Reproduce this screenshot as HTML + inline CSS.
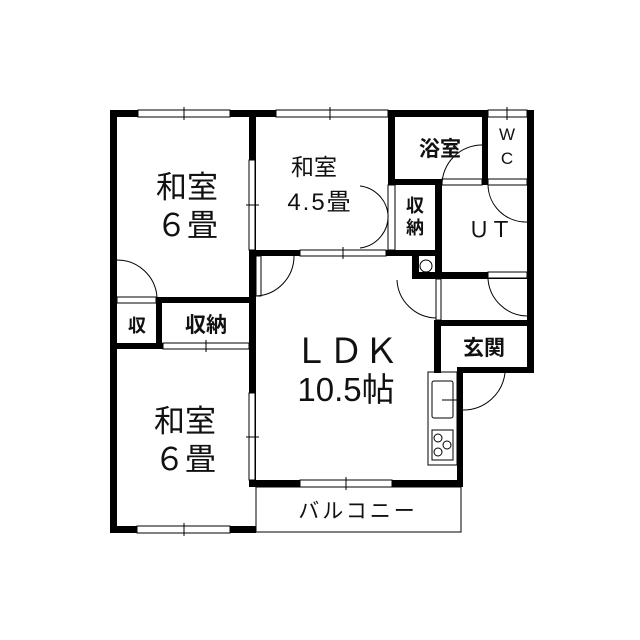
<!DOCTYPE html>
<html><head><meta charset="utf-8"><style>
html,body{margin:0;padding:0;background:#fff;}
svg{display:block;}
text{font-family:"Liberation Sans","Noto Sans CJK JP",sans-serif;fill:#111;}
.b{font-weight:bold;}
</style></head><body>
<svg width="640" height="640" viewBox="0 0 640 640" xmlns="http://www.w3.org/2000/svg">
<rect width="640" height="640" fill="#fff"/>
<g fill="#000">
<rect x="110" y="110" width="7" height="423"/>
<rect x="110" y="110" width="423" height="7"/>
<rect x="527" y="110" width="7" height="263"/>
<rect x="249" y="110" width="7" height="377"/>
<rect x="249" y="250" width="192" height="6"/>
<rect x="156" y="297" width="100" height="6"/>
<rect x="156" y="297" width="6" height="52"/>
<rect x="110" y="343" width="146" height="6"/>
<rect x="110" y="526" width="146" height="7"/>
<rect x="249" y="480" width="214" height="7"/>
<rect x="388" y="110" width="7" height="75"/>
<rect x="482" y="110" width="6" height="75"/>
<rect x="388" y="179" width="100" height="6"/>
<rect x="435" y="179" width="7" height="100"/>
<rect x="412" y="250" width="7" height="29"/>
<rect x="412" y="272" width="121" height="7"/>
<rect x="435" y="320" width="98" height="6"/>
<rect x="434" y="320" width="7" height="53"/>
<rect x="457" y="367" width="76" height="6"/>
<rect x="457" y="367" width="6" height="120"/>
</g>
<g fill="#fff" stroke="#000" stroke-width="1">
<rect x="138" y="110" width="92" height="7"/>
<rect x="276" y="110" width="112" height="7"/>
<rect x="488" y="110" width="39" height="7"/>
<rect x="249" y="160" width="6" height="90"/>
<rect x="300" y="250" width="86" height="6"/>
<rect x="163" y="343" width="86" height="6"/>
<rect x="249" y="393" width="6" height="87"/>
<rect x="137" y="526" width="93" height="7"/>
<rect x="300" y="480" width="92" height="7"/>
<rect x="117" y="297" width="39" height="6"/>
<rect x="442" y="179" width="40" height="6"/>
<rect x="488" y="179" width="39" height="6"/>
<rect x="488" y="272" width="39" height="6"/>
<rect x="436" y="279" width="5" height="41"/>
<rect x="388" y="185" width="7" height="65"/>
<rect x="256" y="256" width="5" height="40"/>
</g>
<g fill="none" stroke="#000" stroke-width="1">
<line x1="184" y1="107" x2="184" y2="120"/>
<line x1="330" y1="107" x2="330" y2="120"/>
<line x1="507" y1="107" x2="507" y2="120"/>
<line x1="246" y1="205" x2="259" y2="205"/>
<line x1="343" y1="247" x2="343" y2="259"/>
<line x1="206" y1="340" x2="206" y2="352"/>
<line x1="246" y1="437" x2="259" y2="437"/>
<line x1="184" y1="523" x2="184" y2="536"/>
<line x1="346" y1="477" x2="346" y2="490"/>
<rect x="256" y="487" width="205" height="45"/>
<path d="M117 260 A40 40 0 0 1 157 297"/>
<path d="M256 296 A40 40 0 0 0 294 256"/>
<path d="M360 186 A32 32 0 0 1 388 214 A32 32 0 0 1 360 248"/>
<path d="M442 185 A40 40 0 0 1 482 145"/>
<path d="M488 185 A38 38 0 0 0 527 222"/>
<path d="M488 279 A40 40 0 0 0 527 316"/>
<path d="M397 280 A40 40 0 0 0 436 318"/>
<path d="M463 410 A42 42 0 0 0 505 373"/>
<circle cx="426" cy="266" r="6"/>
<rect x="428" y="372" width="29" height="93"/>
<rect x="432" y="381" width="21" height="37" rx="2"/>
<rect x="432" y="430" width="21" height="30"/>
<circle cx="438" cy="438" r="4"/><circle cx="447" cy="445" r="4"/><circle cx="438" cy="452" r="4"/>
<line x1="442" y1="400" x2="457" y2="400"/>
</g>
<text x="187" y="198" font-size="31" text-anchor="middle">和室</text>
<text x="187" y="236" font-size="31" text-anchor="middle">６畳</text>
<text x="314" y="175" font-size="23" text-anchor="middle">和室</text>
<text x="320" y="210" font-size="24" text-anchor="middle" letter-spacing="2">4.5畳</text>
<text x="440" y="156" font-size="21" text-anchor="middle" class="b">浴室</text>
<text x="507" y="140" font-size="17" text-anchor="middle">W</text>
<text x="507" y="164" font-size="17" text-anchor="middle">C</text>
<text x="415" y="212" font-size="18" text-anchor="middle" class="b">収</text>
<text x="415" y="234" font-size="18" text-anchor="middle" class="b">納</text>
<text x="490" y="237" font-size="22" text-anchor="middle">ＵＴ</text>
<text x="137" y="332" font-size="18" text-anchor="middle" class="b">収</text>
<text x="206" y="332" font-size="21" text-anchor="middle" class="b">収納</text>
<text x="346" y="363" font-size="35" text-anchor="middle">ＬＤＫ</text>
<text x="346" y="401" font-size="33" text-anchor="middle">10.5帖</text>
<text x="185" y="432" font-size="31" text-anchor="middle">和室</text>
<text x="185" y="470" font-size="31" text-anchor="middle">６畳</text>
<text x="484" y="355" font-size="21" text-anchor="middle" class="b">玄関</text>
<text x="358" y="518" font-size="21" text-anchor="middle" letter-spacing="3">バルコニー</text>
</svg>
</body></html>
